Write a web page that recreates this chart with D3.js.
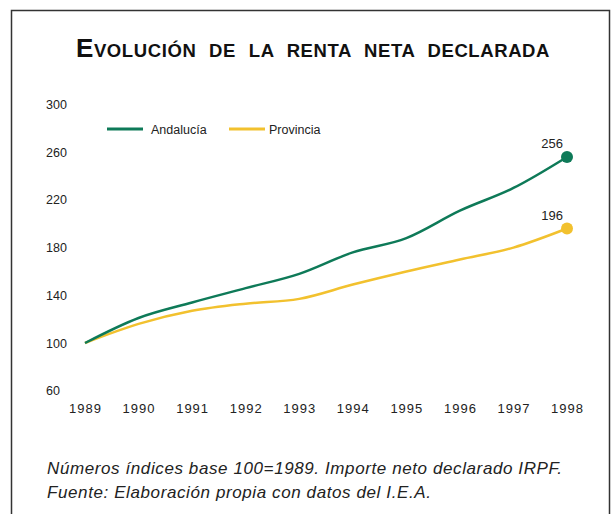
<!DOCTYPE html>
<html>
<head>
<meta charset="utf-8">
<script src="https://cdn.jsdelivr.net/npm/d3@7"></script>
<style>
  body { margin: 0; background: #fff; }
  svg { display: block; font-family: "Liberation Sans", Arial, sans-serif; }
</style>
</head>
<body>
<div id="plot"></div>
<script>
// data (index, base 100 = 1989)
const years = [1989, 1990, 1991, 1992, 1993, 1994, 1995, 1996, 1997, 1998];
const andalucia = [100, 121, 134, 146, 158, 176, 188, 211, 230, 256];
const provincia = [100, 116, 127, 133, 137, 149, 160, 170, 180, 196];
const yTicks = [60, 100, 140, 180, 220, 260, 300];
const endLabels = ["256", "196"];

const W = 613, H = 514;
const svg = d3.select("#plot").append("svg")
  .attr("width", W).attr("height", H);

// frame
svg.append("rect")
  .attr("x", 11.5).attr("y", 10.5)
  .attr("width", 598).attr("height", 520)
  .attr("fill", "none").attr("stroke", "#333").attr("stroke-width", 1.5);

// title in small caps
const title = svg.append("text")
  .attr("x", 313).attr("y", 57)
  .attr("text-anchor", "middle")
  .attr("font-weight", "bold").attr("fill", "#111")
  .attr("letter-spacing", "0.6");
title.append("tspan").attr("font-size", 26).text("E");
title.append("tspan").attr("font-size", 18.5).attr("word-spacing", 7)
  .text("VOLUCIÓN DE LA RENTA NETA DECLARADA");

// scales
const x = d3.scaleLinear().domain([1989, 1998]).range([85, 567]);
const y = d3.scaleLinear().domain([100, 300]).range([343, 104.5]);

// y axis (labels only)
const yAxis = svg.append("g")
  .attr("transform", "translate(46,0)")
  .call(d3.axisLeft(y).tickValues(yTicks).tickSize(0).tickPadding(0));
yAxis.select(".domain").remove();
yAxis.selectAll("text")
  .attr("text-anchor", "start").attr("x", 0)
  .attr("font-size", 12.5).attr("fill", "#222")
  .attr("font-family", "'Liberation Sans', Arial, sans-serif");

// x axis (labels only)
const xAxis = svg.append("g")
  .attr("transform", "translate(0,404)")
  .call(d3.axisBottom(x).tickValues(years).tickFormat(d3.format("d")).tickSize(0).tickPadding(0));
xAxis.select(".domain").remove();
xAxis.selectAll("text")
  .attr("font-size", 13).attr("fill", "#222").attr("letter-spacing", 1)
  .attr("font-family", "'Liberation Sans', Arial, sans-serif");

// series
const series = [
  { name: "Andalucía", values: andalucia, color: "#0e7a58" },
  { name: "Provincia", values: provincia, color: "#f2c12e" }
];

const line = d3.line()
  .x((d, i) => x(years[i]))
  .y(d => y(d))
  .curve(d3.curveMonotoneX);

// draw yellow under green
series.slice().reverse().forEach(s => {
  svg.append("path")
    .datum(s.values)
    .attr("d", line)
    .attr("fill", "none")
    .attr("stroke", s.color)
    .attr("stroke-width", 2.5);
});

// end markers and labels
series.forEach((s, i) => {
  const last = s.values.length - 1;
  svg.append("circle")
    .attr("cx", x(years[last])).attr("cy", y(s.values[last]))
    .attr("r", 6).attr("fill", s.color);
  svg.append("text")
    .attr("x", x(years[last]) - 4).attr("y", y(s.values[last]) - 9)
    .attr("text-anchor", "end")
    .attr("font-size", 13).attr("fill", "#222")
    .text(endLabels[i]);
});

// legend
const legend = svg.append("g");
[{ x0: 107, tx: 151 }, { x0: 229, tx: 269 }].forEach((p, i) => {
  legend.append("line")
    .attr("x1", p.x0).attr("x2", p.x0 + 36)
    .attr("y1", 129).attr("y2", 129)
    .attr("stroke", series[i].color).attr("stroke-width", 3);
  legend.append("text")
    .attr("x", p.tx).attr("y", 133.5)
    .attr("font-size", 12.5).attr("fill", "#222")
    .text(series[i].name);
});

// footnote
const note = svg.append("g")
  .attr("font-style", "italic").attr("font-size", 17)
  .attr("letter-spacing", 0.6).attr("fill", "#222");
note.append("text").attr("x", 47).attr("y", 474)
  .text("Números índices base 100=1989. Importe neto declarado IRPF.");
note.append("text").attr("x", 47).attr("y", 498)
  .text("Fuente: Elaboración propia con datos del I.E.A.");
</script>
</body>
</html>
